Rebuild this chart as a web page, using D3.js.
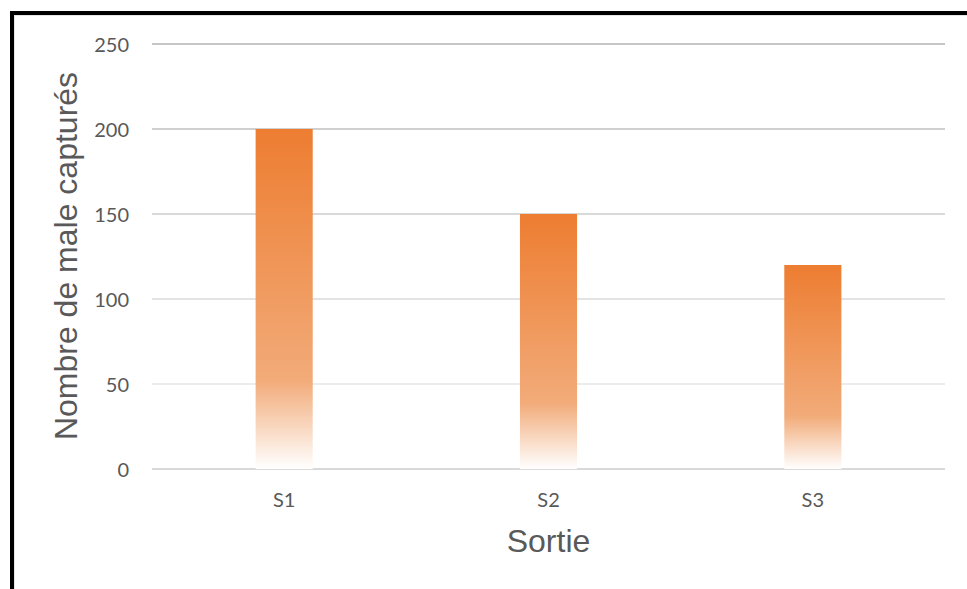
<!DOCTYPE html>
<html>
<head>
<meta charset="utf-8">
<script src="https://cdn.jsdelivr.net/npm/d3@7"></script>
<style>
  html, body { margin: 0; padding: 0; background: #fff; }
  svg { display: block; }
</style>
</head>
<body>
<script>
// Captures per outing
const categories = ["S1", "S2", "S3"];
const values = [200, 150, 120];
const yTicks = [0, 50, 100, 150, 200, 250];
const yTitle = "Nombre de male capturés";
const xTitle = "Sortie";

const W = 967, H = 589;
const svg = d3.select("body").append("svg").attr("width", W).attr("height", H);

// frame: thick black top and left edges with a faint shadow
svg.append("rect").attr("x", 14).attr("y", 15).attr("width", W - 14).attr("height", H - 15).attr("fill", "#e6e6e6");
svg.append("rect").attr("x", 15).attr("y", 16).attr("width", W - 15).attr("height", H - 16).attr("fill", "#fff");
svg.append("rect").attr("x", 10).attr("y", 11).attr("width", W - 10).attr("height", 4).attr("fill", "#000");
svg.append("rect").attr("x", 10).attr("y", 11).attr("width", 4).attr("height", H - 11).attr("fill", "#000");

const plot = { left: 152, right: 945, top: 44, bottom: 469 };

const x = d3.scaleBand().domain(categories).range([plot.left, plot.right]).paddingInner(0.784).paddingOuter(0.392);
const y = d3.scaleLinear().domain([0, 250]).range([plot.bottom, plot.top]);

// gradient fill for the bars
const defs = svg.append("defs");
const grad = defs.append("linearGradient").attr("id", "barGrad")
  .attr("x1", 0).attr("y1", 0).attr("x2", 0).attr("y2", 1);
grad.append("stop").attr("offset", "0%").attr("stop-color", "#ED7D31");
grad.append("stop").attr("offset", "74%").attr("stop-color", "#F2AB79");
grad.append("stop").attr("offset", "100%").attr("stop-color", "#FFFFFF");

// gridlines
const gridShade = d3.scaleLinear().domain([50, 250]).range(["#ececec", "#c6c6c6"]);
svg.append("g").selectAll("line").data(yTicks).join("line")
  .attr("x1", plot.left).attr("x2", plot.right)
  .attr("y1", d => y(d)).attr("y2", d => y(d))
  .attr("stroke", d => d === 0 ? "#d9d9d9" : gridShade(d))
  .attr("stroke-width", 2);

// y axis labels
const yAxis = d3.axisLeft(y).tickValues(yTicks).tickSize(0).tickPadding(0);
const gy = svg.append("g").attr("transform", `translate(129,0)`).call(yAxis);
gy.select(".domain").remove();
gy.selectAll("text")
  .attr("font-family", "Lato, 'Open Sans', sans-serif")
  .attr("font-size", 20)
  .attr("fill", "#595959")
  .attr("dy", "0.36em");

// bars
svg.append("g").selectAll("rect").data(values).join("rect")
  .attr("x", (d, i) => x(categories[i]))
  .attr("width", x.bandwidth())
  .attr("y", d => y(d))
  .attr("height", d => y(0) - y(d))
  .attr("fill", "url(#barGrad)");

// x axis labels
const xAxis = d3.axisBottom(x).tickSize(0).tickPadding(0);
const gx = svg.append("g").attr("transform", `translate(0,${plot.bottom})`).call(xAxis);
gx.select(".domain").remove();
gx.selectAll("text")
  .attr("font-family", "Lato, 'Open Sans', sans-serif")
  .attr("font-size", 20)
  .attr("fill", "#595959")
  .attr("dy", null)
  .attr("y", 38);

// axis titles
svg.append("text")
  .attr("x", (plot.left + plot.right) / 2).attr("y", 552)
  .attr("text-anchor", "middle")
  .attr("font-family", "'Liberation Sans', Arial, sans-serif")
  .attr("font-size", 32)
  .attr("fill", "#595959")
  .text(xTitle);

svg.append("text")
  .attr("transform", "translate(77,256) rotate(-90)")
  .attr("text-anchor", "middle")
  .attr("font-family", "'Liberation Sans', Arial, sans-serif")
  .attr("font-size", 32)
  .attr("fill", "#595959")
  .text(yTitle);
</script>
</body>
</html>
